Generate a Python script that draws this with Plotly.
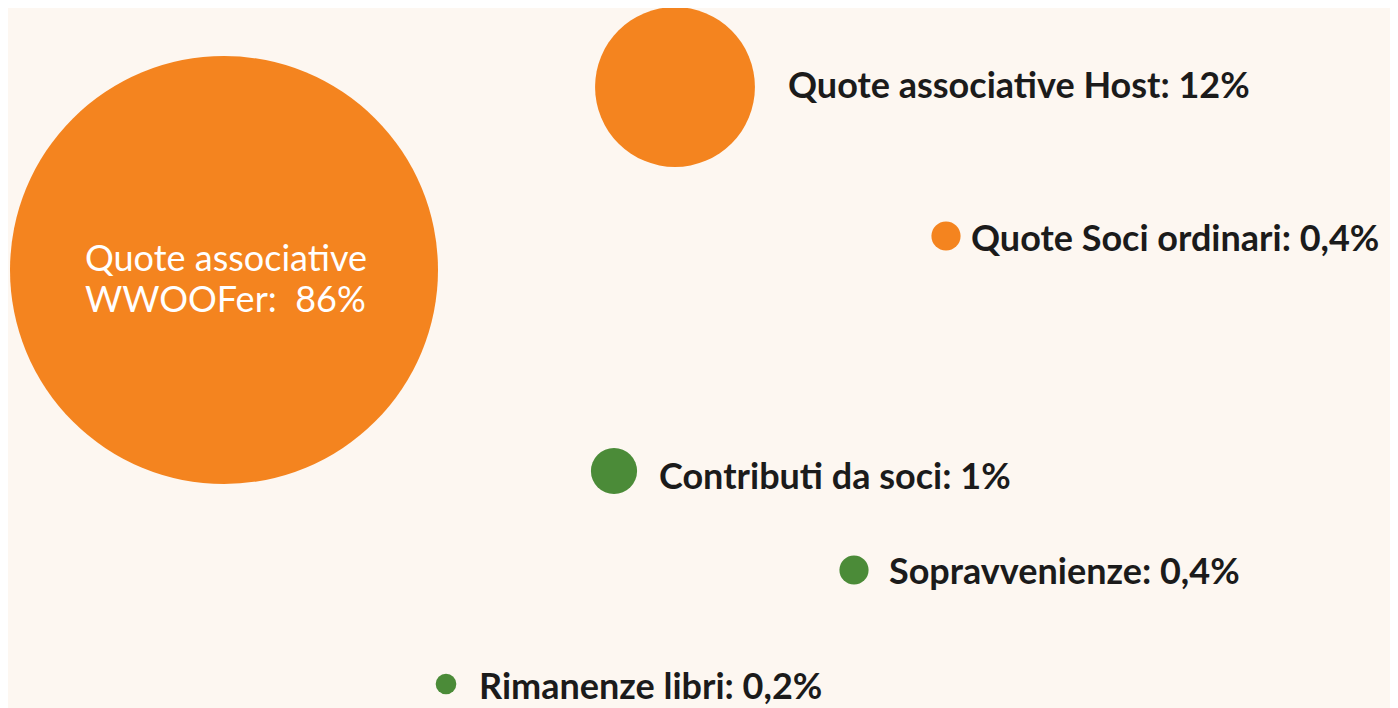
import plotly.graph_objects as go

# ---- data ----
categories = ["Quote associative WWOOFer", "Quote associative Host", "Quote Soci ordinari",
              "Contributi da soci", "Sopravvenienze", "Rimanenze libri"]
values = [86, 12, 0.4, 1, 0.4, 0.2]
groups = ["quote", "quote", "quote", "altro", "altro", "altro"]

# ---- layout (bubble placement, pixels in the 1398x708 window) ----
bubble_x = [224, 675, 946, 614, 854, 446]
bubble_y = [270, 87, 236, 471, 570, 684]
label_x = [None, 787, 970, 658, 888, 478]
label_y = [None, 84, 237, 475, 570, 685]

colors = {"quote": "#F4841F", "altro": "#4B8B38"}
W, H = 1398, 708
OFF = 8  # page body margin
max_diam = 428
sizeref = 2.0 * max(values) / max_diam ** 2

def fmt(v):
    return ("%g" % v).replace(".", ",") + "%"

fig = go.Figure()
fig.add_trace(go.Scatter(
    x=bubble_x, y=bubble_y, mode="markers",
    marker=dict(size=values, sizemode="area", sizeref=sizeref, sizemin=1,
                color=[colors[g] for g in groups], line=dict(width=0), opacity=1),
    hoverinfo="text", text=[f"{c}: {fmt(v)}" for c, v in zip(categories, values)],
    showlegend=False,
))

# inside label of the largest bubble (two lines)
inner_lines = ["Quote associative", "WWOOFer:\u00a0 " + fmt(values[0])]
for k, line in enumerate(inner_lines):
    fig.add_annotation(x=83, y=257 + 41 * k, xref="x", yref="y", text=line,
                       showarrow=False, xanchor="left", yanchor="middle",
                       font=dict(family="Lato", size=36, color="#FFFFFF"))

for i in range(1, len(categories)):
    fig.add_annotation(x=label_x[i], y=label_y[i], xref="x", yref="y",
                       text=f"<b>{categories[i]}: {fmt(values[i])}</b>",
                       showarrow=False, xanchor="left", yanchor="middle", borderpad=0,
                       font=dict(family="Lato", size=36, color="#1B1B1B"))

fig.update_layout(
    width=W - OFF, height=H - OFF, margin=dict(l=0, r=0, t=0, b=0),
    paper_bgcolor="#FDF7F1", plot_bgcolor="#FDF7F1",
    xaxis=dict(range=[OFF, W], visible=False, fixedrange=True),
    yaxis=dict(range=[H, OFF], visible=False, fixedrange=True),
)
fig.write_html("out.html")
